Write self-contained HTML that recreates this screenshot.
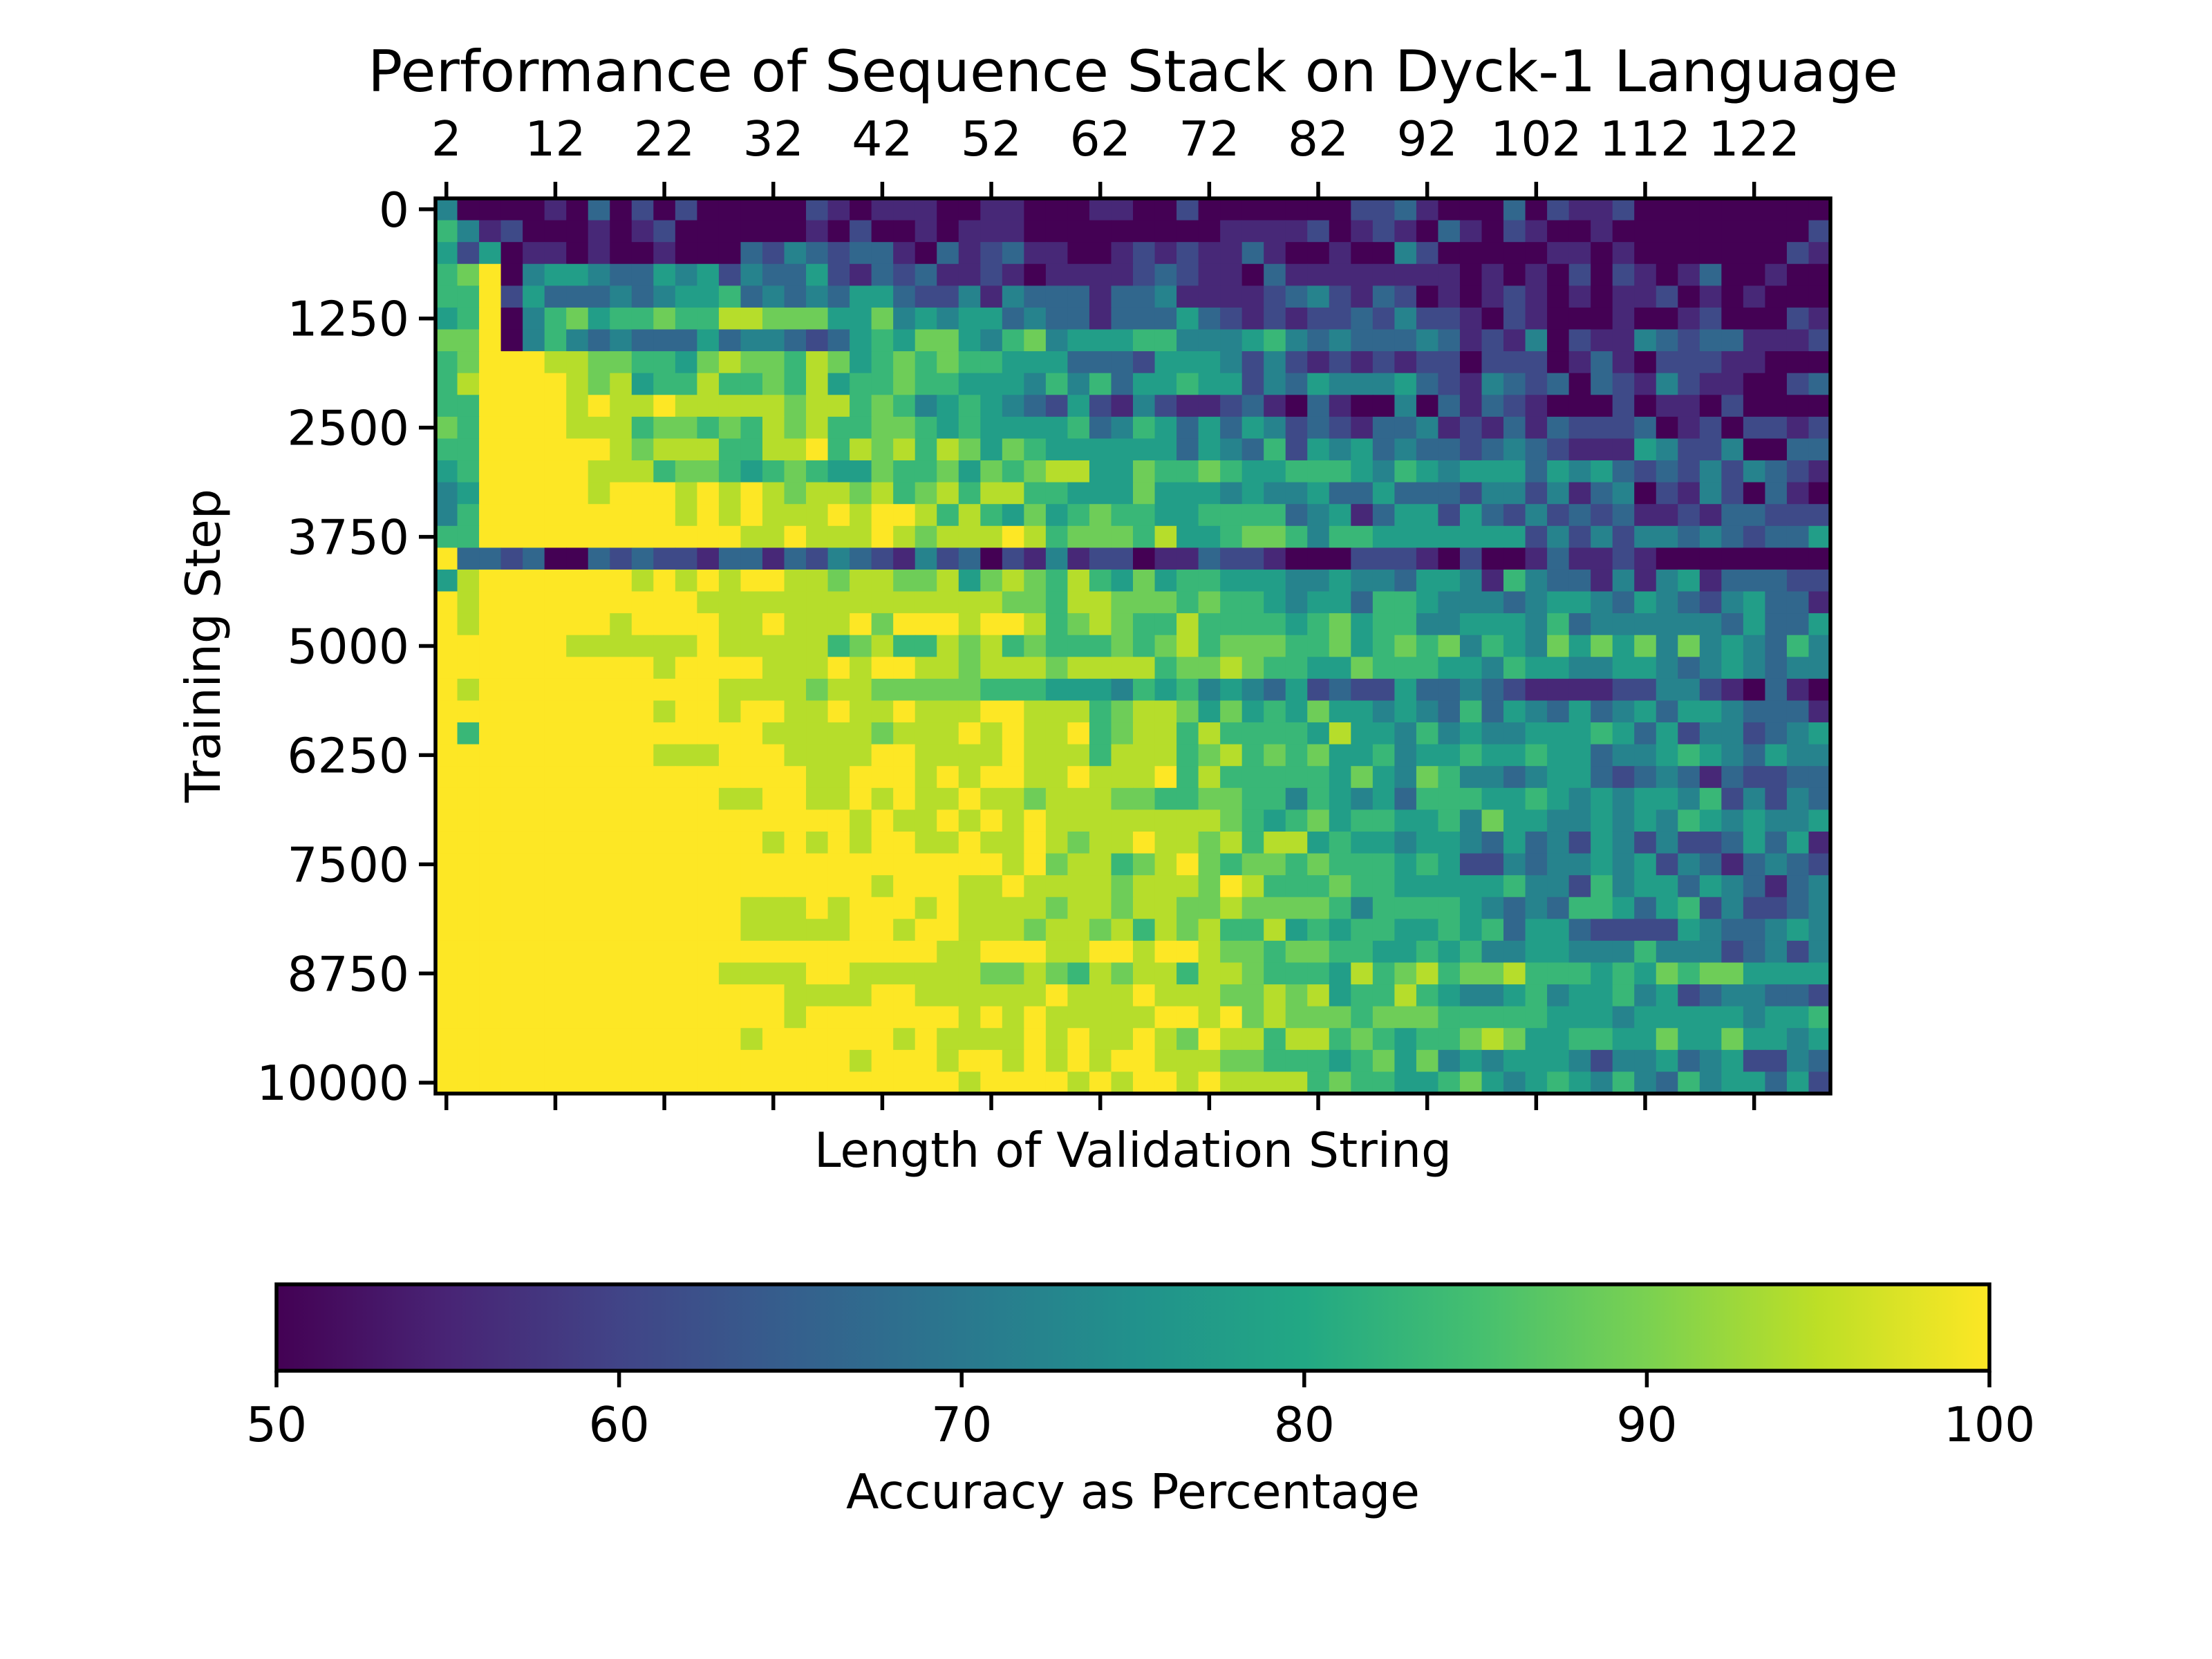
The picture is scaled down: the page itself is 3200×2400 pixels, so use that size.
<!DOCTYPE html>
<html><head><meta charset="utf-8"><style>
html,body{margin:0;padding:0;background:#fff;}
svg{display:block;}
text{font-family:"DejaVu Sans","Liberation Sans",sans-serif;fill:#000;}
</style></head>
<body>
<svg id="chart" width="3200" height="2400" viewBox="0 0 3200 2400" xmlns="http://www.w3.org/2000/svg">
<defs>
<linearGradient id="viridisGrad" x1="0" y1="0" x2="1" y2="0">
<stop offset="0" stop-color="#440154"/><stop offset="0.1" stop-color="#482475"/><stop offset="0.2" stop-color="#414487"/><stop offset="0.3" stop-color="#355f8d"/><stop offset="0.4" stop-color="#2a788e"/><stop offset="0.5" stop-color="#21918c"/><stop offset="0.6" stop-color="#22a884"/><stop offset="0.7" stop-color="#44bf70"/><stop offset="0.8" stop-color="#7ad151"/><stop offset="0.9" stop-color="#bddf26"/><stop offset="1" stop-color="#fde725"/>
</linearGradient>
</defs>
<text x="1639" y="132" font-size="83.3" text-anchor="middle">Performance of Sequence Stack on Dyck-1 Language</text>
<g id="cells"></g>
<g id="axes"></g>
<text x="1639" y="1688" font-size="69.4" text-anchor="middle">Length of Validation String</text>
<text x="318" y="934" font-size="69.4" text-anchor="middle" transform="rotate(-90 318 934)">Training Step</text>
<rect x="400" y="1858" width="2478" height="125" fill="url(#viridisGrad)" stroke="#000" stroke-width="5.5"/>
<g id="cbar"></g>
<text x="1639" y="2182" font-size="69.4" text-anchor="middle">Accuracy as Percentage</text>
</svg>
<script>
// Each row = one training step (0..10000 step 250); each digit = accuracy level for one string length (2..128 step 2).
// digit d -> accuracy 50 + d*50/9 (%)
const rowCodes = [
"4000010302020000021011100110001100200000002231000302112000000000",
"6412000101200000010200101110000000001111201210310210010000000002",
"5250110100100032432331031231100121211310010042000001101000000021",
"6790455433545243352132311210111123211031111111101010202101300100",
"6692533343455634343553224143331334111123421320101210101120101000",
"5690467566766887775574545534331333532121223242210210001001200021",
"7790464343335344323565775467455566444564343334312140211432331112",
"6799988776657877687567676655533325554242121212202220131022211000",
"6899998785668667685667665554646355655243544453214323032142110023",
"6699998988988888788676456543252142112310310040313210002011020000",
"7699998886776768786677656555563465353542321334121313222301202212",
"6699999987888668896878687576555555354362545343323432111542240033",
"5699999888677656765576675767885576676556665465455535453232424321",
"4599999899989898788786786886655575554544533533324424134021420310",
"4699999999989898889899868657567665566663451355253242323112133222",
"6699999999999988988898788898677768556776466555555524242443432335",
"9332300323221331324321423021412201132210002221020013112100000000",
"5899999998989899887887785787686575665554454435541643314145133322",
"9899999999998888888888888877688777676654553665444345543543245331",
"9899999989999889888979998998678766866665675664455546344444435335",
"9999998888889888886786687867666767867776675676746547575747454364",
"9999999999899998889899887888788886778766557666554655445543454344",
"9899999999999888878877777666555465645435232253343211112244210310",
"9999999999899899889889888998886788757565755454363543534535543331",
"9699999999999998888878889898896788686666585546454455565352442345",
"9999999999888999888899888898886888678676755645565565534456543544",
"9999999999999999988999898998898889686666657547644345532343132233",
"9999999999999889988989889887888776677664654536665565454554624243",
"9999999999999999999898898989888888887656756655647554454546545445",
"9999999999999998989899889889878898878688565545543534254242235351",
"9999999999999999999999999989788678976776766656522434454524313432",
"9999999999999999999989998898888788879866676655555644264553543134",
"9999999999999988898999898888788788778777764666654343665356242234",
"9999999999999988888998998887887868786685656655656355322225433454",
"9999999999999999999999988999889989987767766556564455444644423424",
"9999999999999888899888888778768788688766658678677866656576775555",
"9999999999999999888899888888988898887787856686544564556452344332",
"9999999999999999899999998989888889989787776777666665554555554556",
"9999999999999989999998988889898898798868867656678755665575575545",
"9999999999999999999899989989898998887766656757454555424453452243",
"9999999999999999999999998999989899898888676655675456546436455352"
];
const lengths = [];
for (let L = 2; L <= 128; L += 2) lengths.push(L);
const steps = [];
for (let s = 0; s <= 10000; s += 250) steps.push(s);
const accuracy = rowCodes.map(r => r.split('').map(c => 50 + Number(c) * 50 / 9));
const xTickLabels = ["2","12","22","32","42","52","62","72","82","92","102","112","122"];
const yTickLabels = ["0","1250","2500","3750","5000","6250","7500","8750","10000"];
const cbarTickLabels = ["50","60","70","80","90","100"];
const vmin = 50, vmax = 100;

const NS = "http://www.w3.org/2000/svg";
const X0 = 630, X1 = 2648, Y0 = 287, Y1 = 1582;
const colW = (X1 - X0) / lengths.length;
const rowH = (Y1 - Y0) / steps.length;
function xPos(i) { return X0 + i * colW; }
function yPos(j) { return Y0 + j * rowH; }
const viridis = ["#440154","#482475","#414487","#355f8d","#2a788e","#21918c","#22a884","#44bf70","#7ad151","#bddf26","#fde725"];
function hex(h){return [parseInt(h.substr(1,2),16),parseInt(h.substr(3,2),16),parseInt(h.substr(5,2),16)];}
function color(v) {
  let t = (v - vmin) / (vmax - vmin); t = Math.max(0, Math.min(1, t));
  const p = t * 10, k = Math.min(9, Math.floor(p)), f = p - k;
  const a = hex(viridis[k]), b = hex(viridis[k + 1]);
  return "rgb(" + a.map((c, i) => Math.round(c + (b[i] - c) * f)).join(",") + ")";
}
function mk(tag, attrs, parent) {
  const e = document.createElementNS(NS, tag);
  for (const k in attrs) e.setAttribute(k, attrs[k]);
  parent.appendChild(e); return e;
}

const cells = document.getElementById("cells");
accuracy.forEach((row, j) => {
  row.forEach((v, i) => {
    const r = mk("rect", {x: xPos(i).toFixed(2), y: yPos(j).toFixed(2), width: (colW + 0.6).toFixed(2), height: (rowH + 0.6).toFixed(2), fill: color(v)}, cells);
    
    
  });
});

const axes = document.getElementById("axes");
const frame = mk("rect", {x: X0, y: Y0, width: X1 - X0, height: Y1 - Y0, fill: "none", stroke: "#000", "stroke-width": 5.5}, axes);



xTickLabels.forEach((lab) => {
  const i = lengths.indexOf(Number(lab));
  const x = xPos(i) + colW / 2;
  const t1 = mk("line", {x1: x, x2: x, y1: Y0, y2: Y0 - 24, stroke: "#000", "stroke-width": 5.5}, axes);
  
  
  const t2 = mk("line", {x1: x, x2: x, y1: Y1, y2: Y1 + 24, stroke: "#000", "stroke-width": 5.5}, axes);
  
  
  const tx = mk("text", {x: x, y: 225, "font-size": 69.4, "text-anchor": "middle"}, axes);
  tx.textContent = lab;
  
  
});

yTickLabels.forEach((lab) => {
  const j = steps.indexOf(Number(lab));
  const y = yPos(j) + rowH / 2;
  const t = mk("line", {x1: X0 - 24, x2: X0, y1: y, y2: y, stroke: "#000", "stroke-width": 5.5}, axes);
  
  
  const tx = mk("text", {x: 592, y: y + 25, "font-size": 69.4, "text-anchor": "end"}, axes);
  tx.textContent = lab;
  
  
});

const cbar = document.getElementById("cbar");
const CB0 = 400, CB1 = 2878, CBY = 1983;
cbarTickLabels.forEach((lab) => {
  const x = CB0 + (Number(lab) - vmin) / (vmax - vmin) * (CB1 - CB0);
  const t = mk("line", {x1: x, x2: x, y1: CBY, y2: CBY + 24, stroke: "#000", "stroke-width": 5.5}, cbar);
  
  
  const tx = mk("text", {x: x, y: 2085, "font-size": 69.4, "text-anchor": "middle"}, cbar);
  tx.textContent = lab;
  
  
});
</script>
</body></html>
